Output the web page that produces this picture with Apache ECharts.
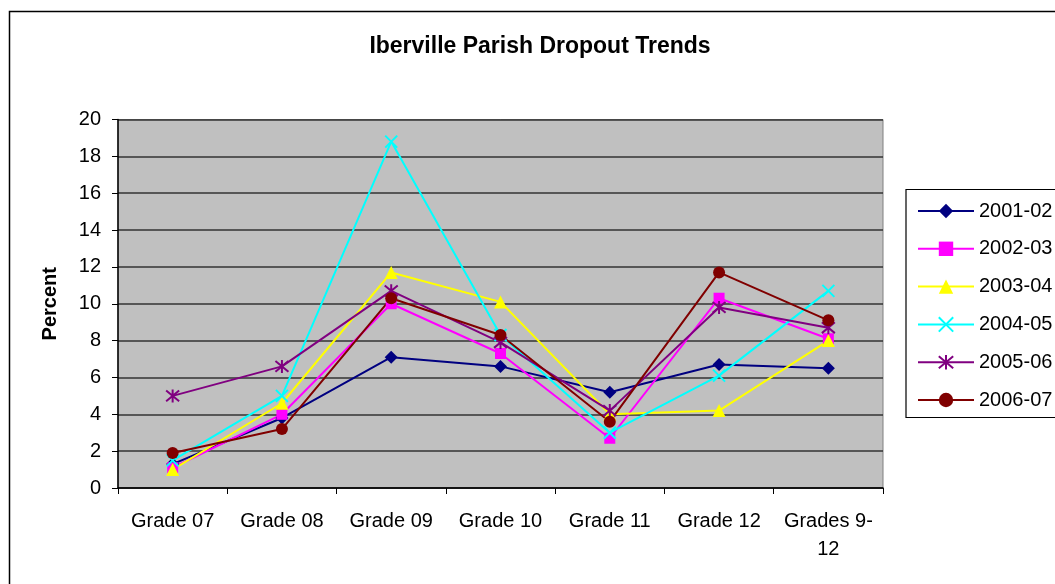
<!DOCTYPE html>
<html>
<head>
<meta charset="utf-8">
<script src="https://cdn.jsdelivr.net/npm/echarts@6/dist/echarts.min.js"></script>
<style>
html,body{margin:0;padding:0;background:#fff;}
#chart{width:1055px;height:584px;}
</style>
</head>
<body>
<div id="chart"></div>
<script>
const categories = ['Grade 07','Grade 08','Grade 09','Grade 10','Grade 11','Grade 12','Grades 9-\n12'];
const yTicks = [0,2,4,6,8,10,12,14,16,18,20];
const s2001_02 = [1.3, 3.8, 7.1, 6.6, 5.2, 6.7, 6.5];
const s2002_03 = [1.1, 4.0, 10.0, 7.3, 2.7, 10.3, 8.1];
const s2003_04 = [1.0, 4.6, 11.7, 10.1, 4.0, 4.2, 8.0];
const s2004_05 = [1.5, 5.0, 18.8, 8.3, 3.0, 6.1, 10.7];
const s2005_06 = [5.0, 6.6, 10.7, 7.9, 4.2, 9.8, 8.7];
const s2006_07 = [1.9, 3.2, 10.3, 8.3, 3.6, 11.7, 9.1];
const seriesNames = ['2001-02','2002-03','2003-04','2004-05','2005-06','2006-07'];

const FONT = '"Liberation Sans", Arial, sans-serif';
const styles = [
  {color:'#000080', symbol:'diamond', size:13},
  {color:'#FF00FF', symbol:'rect', size:11},
  {color:'#FFFF00', symbol:'triangle', size:13},
  {color:'#00FFFF', symbol:'path://M0,0L10,10M10,0L0,10', size:12, stroke:true},
  {color:'#800080', symbol:'path://M0,0L10,10M10,0L0,10M5,-1L5,11', size:13, stroke:true},
  {color:'#800000', symbol:'circle', size:12}
];
const data = [s2001_02, s2002_03, s2003_04, s2004_05, s2005_06, s2006_07];

const chart = echarts.init(document.getElementById('chart'), null, {renderer:'canvas'});
chart.setOption({
  backgroundColor:'#fff',
  animation:false,
  title:{
    text:'Iberville Parish Dropout Trends',
    left:535, top:30, textAlign:'center',
    textStyle:{fontFamily:FONT, fontSize:23, fontWeight:'bold', color:'#000'}
  },
  graphic:[
    {type:'rect', shape:{x:9.5,y:11.5,width:1100,height:620}, style:{fill:'none', stroke:'#000', lineWidth:1.5}, z:-1},
    {type:'rect', shape:{x:906,y:189.5,width:200,height:228}, style:{fill:'#fff', stroke:'#000', lineWidth:1.2}, z:-1}
  ],
  legend:{
    orient:'vertical',
    left:912, top:196,
    itemWidth:56, itemHeight:18,
    itemGap:17.8,
    textStyle:{fontFamily:FONT, fontSize:20, color:'#000', padding:[0,0,0,0]},
    data:seriesNames
  },
  grid:{left:118, right:172, top:119.5, bottom:96, show:true, backgroundColor:'#C0C0C0', borderColor:'#808080', borderWidth:1},
  xAxis:{
    type:'category',
    data:categories,
    boundaryGap:true,
    axisLine:{lineStyle:{color:'#000', width:1.5}},
    axisTick:{show:true, alignWithLabel:false, length:6, lineStyle:{color:'#000'}},
    axisLabel:{fontFamily:FONT, fontSize:20, color:'#000', margin:19, lineHeight:28, interval:0},
    splitLine:{show:false}
  },
  yAxis:{
    type:'value',
    min:0, max:20, interval:2,
    name:'Percent',
    nameLocation:'middle',
    nameGap:58,
    nameTextStyle:{fontFamily:FONT, fontSize:20, fontWeight:'bold', color:'#000'},
    axisLine:{show:true, lineStyle:{color:'#000', width:1.5}},
    axisTick:{show:true, length:6, lineStyle:{color:'#000'}},
    axisLabel:{fontFamily:FONT, fontSize:20, color:'#000', margin:17,
      formatter:(v)=> yTicks.includes(v) ? String(v) : ''},
    splitLine:{show:true, lineStyle:{color:'#333', width:1.5}}
  },
  series: seriesNames.map((n,i)=>({
    name:n,
    type:'line',
    data:data[i],
    symbol:styles[i].symbol,
    symbolSize:styles[i].size,
    showAllSymbol:true,
    lineStyle:{color:styles[i].color, width:2},
    itemStyle: styles[i].stroke
      ? {color:styles[i].color, borderColor:styles[i].color, borderWidth:2}
      : {color:styles[i].color, borderWidth:0},
    emphasis:{disabled:true}
  }))
});
</script>
</body>
</html>
